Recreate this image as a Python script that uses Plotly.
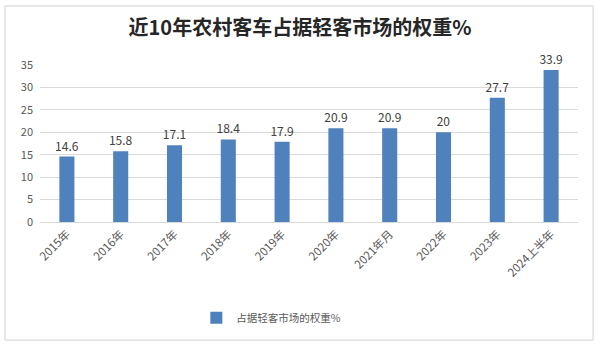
import plotly.graph_objects as go

categories = ["2015年", "2016年", "2017年", "2018年", "2019年", "2020年", "2021年月", "2022年", "2023年", "2024上半年"]
values = [14.6, 15.8, 17.1, 18.4, 17.9, 20.9, 20.9, 20, 27.7, 33.9]
series_name = "占据轻客市场的权重%"
title = "近10年农村客车占据轻客市场的权重%"
y_ticks = [0, 5, 10, 15, 20, 25, 30, 35]

font_family = "Noto Sans CJK SC, Noto Sans, sans-serif"

fig = go.Figure()
fig.add_trace(go.Bar(
    x=categories, y=values, name=series_name,
    marker=dict(color="#4F81BD", line=dict(color="#4F81BD", width=0)),
    text=[f"{v:g}" for v in values], textposition="outside", constraintext="none",
    textfont=dict(size=12, color="#404040"), cliponaxis=False,
    showlegend=True,
))

fig.update_layout(
    width=600, height=345,
    margin=dict(l=40, r=22, t=65, b=123),
    paper_bgcolor="white", plot_bgcolor="white",
    font=dict(family=font_family, color="#595959"),
    bargap=0.72,
    uniformtext=dict(mode=False),
    title=dict(text="<b>" + title + "</b>", x=0.5, xanchor="center", y=0.918, yanchor="middle",
               font=dict(size=20, color="#262626", family=font_family)),
    xaxis=dict(tickangle=-45, tickfont=dict(size=11.5, color="#595959"), showgrid=False,
               showline=True, linecolor="#d9d9d9", ticks=""),
    yaxis=dict(range=[0, 35], tickvals=y_ticks, tickfont=dict(size=11, color="#595959"),
               showgrid=True, gridcolor="#d9d9d9", zeroline=False, showline=False,
               ticklabelstandoff=6),
    legend=dict(orientation="h", x=0.43, xanchor="center", y=-0.61, yanchor="middle",
                font=dict(size=10.5, color="#595959"), itemwidth=30),
    shapes=[dict(type="rect", xref="paper", yref="paper", x0=-0.065, x1=1.028, y0=-0.752, y1=1.376,
                 line=dict(color="#d0d0d0", width=1), fillcolor="rgba(0,0,0,0)", layer="below")],
)

fig.write_html("out.html")
